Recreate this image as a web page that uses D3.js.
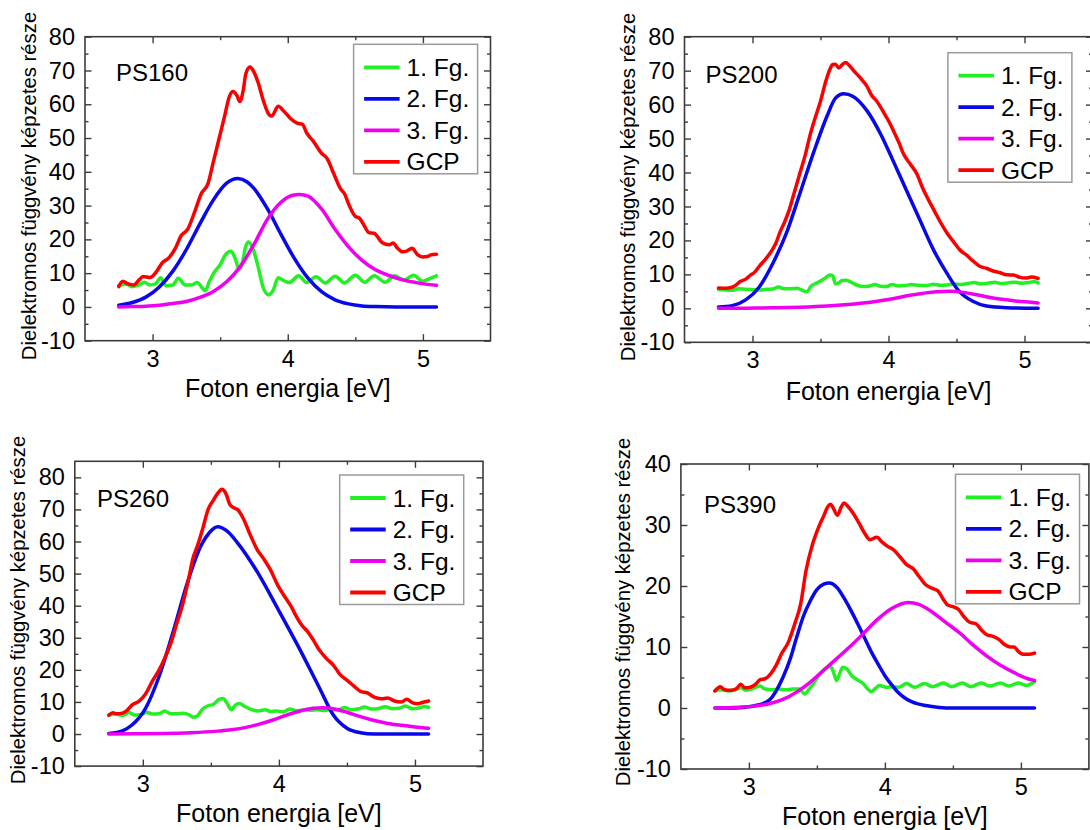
<!DOCTYPE html>
<html><head><meta charset="utf-8">
<script src="https://cdn.jsdelivr.net/npm/d3@7"></script>
<style>
body{margin:0;background:#fff}
svg{display:block}
text{font-family:"Liberation Sans",Arial,sans-serif;fill:#000}
</style>
</head><body>
<svg id="chart" width="1090" height="830"></svg>
<script>
// ---------- labels / ticks ----------
const seriesNames = ["1. Fg.", "2. Fg.", "3. Fg.", "GCP"];
const seriesColors = ["#22f022", "#0808e8", "#f000f0", "#fa0000"];
const xTitle = "Foton energia [eV]";
const yTitle = "Dielektromos függvény képzetes része";
const xTicks = [3, 4, 5];
const xMinorTicks = [3.5, 4.5];
const yTicks80 = [-10, 0, 10, 20, 30, 40, 50, 60, 70, 80];
const yMinor80 = [-5, 5, 15, 25, 35, 45, 55, 65, 75];
const yTicks40 = [-10, 0, 10, 20, 30, 40];
const yMinor40 = [-5, 5, 15, 25, 35];

// ---------- PS160 ----------
const ps160_fg1 = [[2.75,6.3],[2.80,6.8],[2.85,6.0],[2.90,6.5],[2.94,7.3],[2.98,6.5],[3.02,6.8],[3.06,8.6],[3.10,6.3],[3.15,6.5],[3.19,8.5],[3.24,6.5],[3.29,6.5],[3.33,7.2],[3.37,5.5],[3.39,4.8],[3.42,7.5],[3.46,10.5],[3.50,12.5],[3.54,15.5],[3.58,16.5],[3.61,14.5],[3.64,11.2],[3.66,12.5],[3.69,18.0],[3.71,19.2],[3.74,17.5],[3.78,12.0],[3.82,5.5],[3.86,3.6],[3.89,4.8],[3.93,8.6],[3.97,7.8],[4.01,7.2],[4.08,9.2],[4.14,7.2],[4.21,8.9],[4.28,7.1],[4.35,9.1],[4.42,7.1],[4.50,9.4],[4.57,7.3],[4.64,9.2],[4.72,7.3],[4.79,9.2],[4.86,8.0],[4.93,9.4],[5.00,7.6],[5.05,8.4],[5.10,9.2]];
const ps160_fg2 = [[2.75,0.5],[2.85,1.3],[2.95,2.9],[3.05,5.9],[3.15,10.6],[3.25,17.0],[3.35,24.6],[3.45,31.7],[3.55,36.7],[3.63,38.0],[3.70,37.0],[3.75,35.1],[3.85,29.0],[3.95,21.5],[4.05,14.3],[4.15,8.5],[4.25,4.5],[4.35,2.1],[4.45,0.9],[4.55,0.3],[4.65,0.1],[4.80,0.0],[5.10,0.0]];
const ps160_fg3 = [[2.75,0.0],[2.85,0.1],[2.95,0.2],[3.05,0.5],[3.15,1.0],[3.25,1.6],[3.35,2.8],[3.45,4.6],[3.55,7.5],[3.65,12.0],[3.75,18.5],[3.85,26.0],[3.95,31.0],[4.03,33.0],[4.09,33.3],[4.15,32.8],[4.25,29.0],[4.35,23.0],[4.45,17.8],[4.55,13.8],[4.65,11.0],[4.75,9.3],[4.85,8.0],[4.95,7.2],[5.05,6.6],[5.10,6.4]];
const ps160_gcp = [[2.75,6.0],[2.78,7.6],[2.82,6.8],[2.86,6.5],[2.90,8.0],[2.93,9.0],[2.98,8.7],[3.03,10.5],[3.07,13.0],[3.12,14.5],[3.17,17.5],[3.21,21.0],[3.26,23.0],[3.31,28.0],[3.36,33.5],[3.41,36.5],[3.45,43.0],[3.49,49.5],[3.53,56.0],[3.57,62.5],[3.595,63.8],[3.625,62.5],[3.645,60.8],[3.67,64.0],[3.69,69.0],[3.72,71.0],[3.75,69.5],[3.78,66.5],[3.82,61.0],[3.86,57.0],[3.88,56.5],[3.93,59.4],[3.97,58.0],[4.02,55.8],[4.07,54.4],[4.11,54.0],[4.14,51.5],[4.19,49.0],[4.25,45.5],[4.29,44.0],[4.34,39.5],[4.39,35.0],[4.42,33.5],[4.45,30.5],[4.50,26.8],[4.53,26.3],[4.56,24.5],[4.60,22.0],[4.64,21.8],[4.66,21.0],[4.70,19.0],[4.75,18.4],[4.78,18.9],[4.81,17.5],[4.85,16.3],[4.88,16.5],[4.92,17.4],[4.96,15.5],[5.00,14.8],[5.03,14.9],[5.06,15.4],[5.10,15.6]];

// ---------- PS200 ----------
const ps200_fg1 = [[2.75,5.6],[2.80,5.4],[2.85,5.3],[2.90,5.8],[2.95,5.6],[3.00,5.5],[3.05,5.4],[3.10,5.6],[3.15,5.7],[3.19,6.3],[3.23,5.8],[3.28,5.8],[3.33,5.9],[3.37,5.2],[3.40,4.9],[3.43,6.5],[3.48,7.6],[3.53,8.8],[3.57,9.8],[3.59,9.6],[3.61,7.2],[3.63,7.4],[3.66,8.2],[3.69,8.3],[3.73,7.6],[3.77,6.8],[3.82,6.4],[3.86,6.6],[3.90,7.0],[3.94,6.5],[3.98,6.4],[4.03,7.0],[4.07,6.6],[4.12,6.7],[4.17,7.0],[4.22,6.8],[4.28,6.7],[4.33,7.1],[4.38,6.8],[4.43,6.9],[4.48,7.2],[4.53,7.0],[4.58,7.3],[4.63,7.6],[4.68,7.2],[4.73,7.4],[4.78,7.7],[4.83,7.3],[4.88,7.5],[4.93,7.7],[4.98,7.4],[5.03,7.6],[5.07,7.9],[5.10,7.5]];
const ps200_fg2 = [[2.75,0.4],[2.85,0.8],[2.95,2.5],[3.05,6.3],[3.15,13.3],[3.25,22.2],[3.35,34.0],[3.45,46.0],[3.55,56.8],[3.61,61.9],[3.67,63.2],[3.74,62.4],[3.84,58.3],[3.94,51.5],[4.03,43.8],[4.13,34.9],[4.23,26.1],[4.33,17.3],[4.43,10.3],[4.52,5.0],[4.62,2.1],[4.72,0.7],[4.87,0.2],[5.10,0.0]];
const ps200_fg3 = [[2.75,0.0],[2.95,0.05],[3.15,0.15],[3.35,0.35],[3.55,0.7],[3.75,1.3],[3.85,1.7],[3.95,2.3],[4.05,3.0],[4.15,3.8],[4.25,4.4],[4.35,4.9],[4.45,5.0],[4.55,4.7],[4.65,4.0],[4.75,3.2],[4.85,2.6],[4.95,2.1],[5.05,1.8],[5.10,1.6]];
const ps200_gcp = [[2.75,6.0],[2.80,5.9],[2.85,6.2],[2.88,6.9],[2.91,7.9],[2.95,8.6],[2.98,9.6],[3.02,10.8],[3.05,12.4],[3.09,14.2],[3.13,16.3],[3.17,19.0],[3.20,22.2],[3.24,25.8],[3.27,29.0],[3.31,34.5],[3.35,40.0],[3.39,45.5],[3.42,50.5],[3.46,56.0],[3.50,61.0],[3.54,67.0],[3.57,70.5],[3.59,71.8],[3.61,71.9],[3.635,70.8],[3.66,71.8],[3.685,72.4],[3.71,71.6],[3.74,70.2],[3.79,68.0],[3.84,65.5],[3.88,62.5],[3.91,61.2],[3.96,58.0],[4.01,54.5],[4.04,52.0],[4.08,48.5],[4.11,45.5],[4.16,42.5],[4.21,39.5],[4.25,35.5],[4.30,31.5],[4.34,28.5],[4.38,25.5],[4.43,22.2],[4.48,19.5],[4.53,17.0],[4.57,15.8],[4.62,14.0],[4.67,12.4],[4.72,11.8],[4.77,11.0],[4.82,10.5],[4.87,9.9],[4.92,9.8],[4.96,9.2],[5.01,8.9],[5.05,9.2],[5.10,8.8]];

// ---------- PS260 ----------
const ps260_fg1 = [[2.75,5.8],[2.80,6.2],[2.85,5.8],[2.90,6.7],[2.94,5.9],[2.98,6.0],[3.03,6.8],[3.07,6.2],[3.12,6.3],[3.16,7.2],[3.20,6.4],[3.25,6.3],[3.30,6.5],[3.34,6.0],[3.37,5.2],[3.40,5.6],[3.44,7.8],[3.48,8.8],[3.52,9.3],[3.56,10.8],[3.59,11.1],[3.62,9.5],[3.65,7.6],[3.68,9.0],[3.71,9.5],[3.75,8.6],[3.80,7.6],[3.85,7.2],[3.90,7.6],[3.94,7.0],[3.98,7.2],[4.03,6.9],[4.08,7.8],[4.13,7.2],[4.18,7.5],[4.23,7.4],[4.28,7.6],[4.33,7.3],[4.38,7.6],[4.43,7.5],[4.48,8.3],[4.53,7.6],[4.58,7.8],[4.63,8.4],[4.68,7.8],[4.73,7.9],[4.78,8.5],[4.83,7.9],[4.88,8.0],[4.93,8.7],[4.98,7.9],[5.03,8.1],[5.07,8.6],[5.10,8.3]];
const ps260_fg2 = [[2.75,0.2],[2.85,1.0],[2.92,2.8],[3.02,8.0],[3.12,18.0],[3.23,32.9],[3.33,47.5],[3.43,58.9],[3.49,62.8],[3.55,64.6],[3.62,63.2],[3.69,59.9],[3.84,50.6],[3.99,39.2],[4.15,26.7],[4.30,14.2],[4.40,5.9],[4.50,1.8],[4.60,0.4],[4.70,0.0],[5.10,0.0]];
const ps260_fg3 = [[2.75,0.0],[2.95,0.05],[3.15,0.15],[3.35,0.4],[3.55,0.9],[3.65,1.3],[3.75,2.0],[3.85,3.0],[3.95,4.3],[4.05,5.8],[4.15,7.1],[4.25,8.0],[4.32,8.2],[4.40,7.9],[4.50,6.8],[4.60,5.4],[4.70,4.2],[4.80,3.3],[4.90,2.7],[5.00,2.2],[5.10,1.8]];
const ps260_gcp = [[2.75,5.9],[2.78,6.6],[2.81,6.3],[2.85,6.5],[2.88,7.2],[2.92,9.0],[2.97,10.2],[3.02,12.5],[3.07,16.5],[3.12,20.0],[3.17,24.5],[3.21,28.8],[3.25,34.5],[3.29,40.0],[3.33,47.0],[3.37,55.0],[3.40,58.5],[3.44,64.0],[3.48,70.0],[3.52,73.0],[3.56,75.5],[3.58,76.3],[3.61,75.0],[3.64,71.5],[3.67,70.5],[3.70,69.8],[3.74,67.0],[3.79,62.0],[3.84,57.5],[3.89,54.5],[3.94,51.0],[3.99,46.5],[4.04,43.0],[4.09,39.8],[4.13,36.5],[4.17,33.8],[4.21,32.0],[4.25,29.5],[4.30,26.0],[4.35,23.5],[4.40,21.5],[4.45,18.5],[4.50,16.8],[4.55,15.0],[4.60,13.3],[4.65,12.8],[4.70,11.5],[4.75,11.0],[4.80,11.2],[4.85,10.3],[4.90,10.0],[4.94,10.8],[4.98,9.8],[5.02,9.4],[5.06,9.9],[5.10,10.3]];

// ---------- PS390 ----------
const ps390_fg1 = [[2.75,2.8],[2.80,3.0],[2.85,2.8],[2.90,3.0],[2.94,3.3],[2.98,2.9],[3.03,3.2],[3.08,3.6],[3.12,3.1],[3.17,3.0],[3.22,3.1],[3.27,3.0],[3.32,3.1],[3.37,3.1],[3.41,2.3],[3.44,3.0],[3.48,4.2],[3.53,5.8],[3.57,6.6],[3.60,6.8],[3.62,6.0],[3.645,4.5],[3.67,5.8],[3.69,6.7],[3.72,6.4],[3.76,5.2],[3.80,4.6],[3.84,4.0],[3.87,3.2],[3.90,2.7],[3.93,3.2],[3.96,3.7],[4.01,3.4],[4.06,3.5],[4.10,3.4],[4.16,4.0],[4.22,3.4],[4.29,4.0],[4.35,3.5],[4.43,4.1],[4.49,3.5],[4.57,4.1],[4.63,3.5],[4.71,4.1],[4.77,3.6],[4.85,4.1],[4.91,3.6],[4.98,4.1],[5.04,3.7],[5.10,4.3]];
const ps390_fg2 = [[2.75,0.0],[2.85,0.0],[2.95,0.1],[3.05,0.4],[3.15,1.3],[3.25,5.0],[3.30,7.8],[3.35,11.5],[3.40,15.0],[3.45,17.5],[3.50,19.4],[3.55,20.3],[3.59,20.5],[3.65,19.7],[3.70,18.0],[3.75,16.0],[3.80,13.8],[3.85,11.5],[3.90,9.2],[3.95,7.2],[4.00,5.3],[4.05,3.8],[4.10,2.5],[4.15,1.6],[4.20,1.0],[4.30,0.4],[4.40,0.1],[4.50,0.0],[5.10,0.0]];
const ps390_fg3 = [[2.75,0.0],[2.85,0.05],[2.95,0.15],[3.05,0.35],[3.15,0.7],[3.25,1.4],[3.35,2.6],[3.45,4.2],[3.55,6.2],[3.65,8.2],[3.75,10.2],[3.85,12.4],[3.95,14.6],[4.05,16.3],[4.17,17.3],[4.25,17.0],[4.35,15.7],[4.45,14.0],[4.55,12.3],[4.65,10.3],[4.75,8.5],[4.85,7.0],[4.95,5.8],[5.05,4.8],[5.10,4.5]];
const ps390_gcp = [[2.75,2.8],[2.79,3.5],[2.82,3.0],[2.87,2.9],[2.91,3.2],[2.94,3.9],[2.97,3.3],[3.01,3.4],[3.05,3.9],[3.08,4.6],[3.12,4.8],[3.16,5.6],[3.20,7.0],[3.24,8.9],[3.29,10.8],[3.34,14.0],[3.38,17.0],[3.42,22.5],[3.47,27.0],[3.51,29.5],[3.55,31.5],[3.58,33.0],[3.60,33.4],[3.62,32.8],[3.65,31.6],[3.68,33.0],[3.70,33.6],[3.73,33.0],[3.77,31.8],[3.81,30.3],[3.85,28.7],[3.89,27.6],[3.94,28.0],[3.98,27.2],[4.02,26.5],[4.06,26.0],[4.11,24.8],[4.16,23.5],[4.21,22.8],[4.25,21.6],[4.30,20.2],[4.35,19.6],[4.39,19.2],[4.43,17.8],[4.46,16.9],[4.50,16.6],[4.54,16.2],[4.58,15.0],[4.62,14.1],[4.67,13.8],[4.71,12.8],[4.75,12.0],[4.80,11.7],[4.84,11.2],[4.88,10.4],[4.92,10.0],[4.95,10.0],[4.98,9.3],[5.02,8.8],[5.06,8.8],[5.10,9.0]];

// ---------- panels (layout) ----------
const panels = [
  {label:"PS160", series:[ps160_fg1,ps160_fg2,ps160_fg3,ps160_gcp], yDomain:[-10,80], yTicks:yTicks80, yMinor:yMinor80,
   box:{l:85,r:490.5,t:36.7,b:340.7}, leg:{x:353.6,y:44.3}, lab:{x:116,y:81}, yt:{x:36,y:186}, xt:{y:397}},
  {label:"PS200", series:[ps200_fg1,ps200_fg2,ps200_fg3,ps200_gcp], yDomain:[-10,80], yTicks:yTicks80, yMinor:yMinor80,
   box:{l:684.5,r:1092.5,t:36.7,b:342.3}, leg:{x:947.9,y:52.7}, lab:{x:705.5,y:83}, yt:{x:634.5,y:187}, xt:{y:400}},
  {label:"PS260", series:[ps260_fg1,ps260_fg2,ps260_fg3,ps260_gcp], yDomain:[-10,85], yTicks:yTicks80, yMinor:yMinor80,
   box:{l:74.8,r:483,t:461.3,b:766.1}, leg:{x:339.7,y:475}, lab:{x:97,y:506.5}, yt:{x:25.3,y:610}, xt:{y:822}},
  {label:"PS390", series:[ps390_fg1,ps390_fg2,ps390_fg3,ps390_gcp], yDomain:[-10,40], yTicks:yTicks40, yMinor:yMinor40,
   box:{l:680.9,r:1088.9,t:464,b:769}, leg:{x:955.5,y:474.3}, lab:{x:704,y:513.3}, yt:{x:630.4,y:612}, xt:{y:825}}
];

const svg = d3.select("#chart");
const FRAME = "#3c3c3c";
const fmt = d => String(d);

panels.forEach(p => {
  const g = svg.append("g");
  const x = d3.scaleLinear().domain([2.5, 5.5]).range([p.box.l, p.box.r]);
  const y = d3.scaleLinear().domain(p.yDomain).range([p.box.b, p.box.t]);

  // curves
  const line = d3.line().x(d => x(d[0])).y(d => y(d[1])).curve(d3.curveMonotoneX);
  p.series.forEach((s, i) => {
    g.append("path").datum(s).attr("d", line)
      .attr("fill", "none").attr("stroke", seriesColors[i])
      .attr("stroke-width", 3.5).attr("stroke-linejoin", "round").attr("stroke-linecap", "round");
  });

  // axes (ticks inward)
  const addAxis = (axis, tx, ty) => {
    const a = g.append("g").attr("transform", `translate(${tx},${ty})`).call(axis);
    a.select(".domain").remove();
    a.selectAll("line").attr("stroke", FRAME).attr("stroke-width", 1.4);
    a.selectAll("text").attr("font-size", 23.5).attr("fill", "#000")
      .style("font-family", '"Liberation Sans", Arial, sans-serif');
    return a;
  };
  const xb = addAxis(d3.axisBottom(x).tickValues(xTicks).tickSize(-6.5).tickPadding(10).tickFormat(fmt), 0, p.box.b);
  xb.selectAll("text").attr("dy", "0.71em").attr("y", 9.5);
  addAxis(d3.axisBottom(x).tickValues(xMinorTicks).tickSize(-3.5).tickFormat(""), 0, p.box.b);
  addAxis(d3.axisTop(x).tickValues(xTicks).tickSize(-6.5).tickFormat(""), 0, p.box.t);
  addAxis(d3.axisTop(x).tickValues(xMinorTicks).tickSize(-3.5).tickFormat(""), 0, p.box.t);
  addAxis(d3.axisLeft(y).tickValues(p.yTicks).tickSize(-6.5).tickPadding(10).tickFormat(fmt), p.box.l, 0);
  addAxis(d3.axisLeft(y).tickValues(p.yMinor).tickSize(-3.5).tickFormat(""), p.box.l, 0);
  addAxis(d3.axisRight(y).tickValues(p.yTicks).tickSize(-6.5).tickFormat(""), p.box.r, 0);
  addAxis(d3.axisRight(y).tickValues(p.yMinor).tickSize(-3.5).tickFormat(""), p.box.r, 0);

  // frame
  g.append("rect").attr("x", p.box.l).attr("y", p.box.t)
    .attr("width", p.box.r - p.box.l).attr("height", p.box.b - p.box.t)
    .attr("fill", "none").attr("stroke", FRAME).attr("stroke-width", 1.6);

  // panel label
  g.append("text").attr("x", p.lab.x).attr("y", p.lab.y).attr("font-size", 24).text(p.label);

  // legend
  const lg = g.append("g").attr("transform", `translate(${p.leg.x},${p.leg.y})`);
  lg.append("rect").attr("width", 124).attr("height", 129.5)
    .attr("fill", "#fff").attr("stroke", "#9a9a9a").attr("stroke-width", 1.5);
  seriesNames.forEach((n, i) => {
    const ry = 23 + i * 31.5;
    lg.append("line").attr("x1", 10.5).attr("x2", 46).attr("y1", ry).attr("y2", ry)
      .attr("stroke", seriesColors[i]).attr("stroke-width", 3.8);
    lg.append("text").attr("x", 53).attr("y", ry + 8.5).attr("font-size", 24.5).text(n);
  });

  // axis titles
  g.append("text").attr("x", (p.box.l + p.box.r) / 2).attr("y", p.xt.y)
    .attr("text-anchor", "middle").attr("font-size", 25).text(xTitle);
  g.append("text").attr("transform", `translate(${p.yt.x},${p.yt.y}) rotate(-90)`)
    .attr("text-anchor", "middle").attr("font-size", 20.3).text(yTitle);
});
</script>
</body></html>
